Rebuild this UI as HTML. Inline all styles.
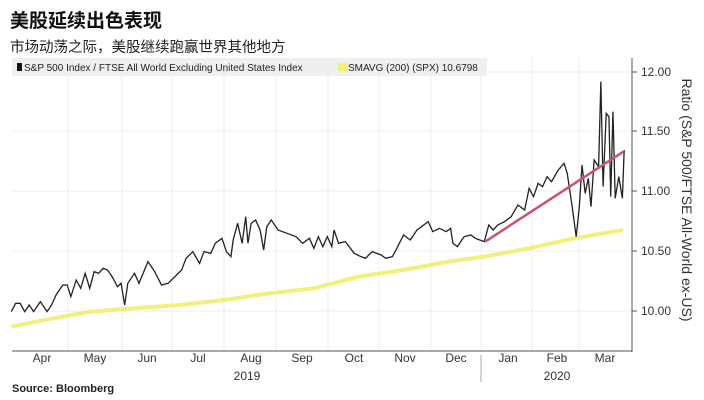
<!DOCTYPE html>
<html><head><meta charset="utf-8"><style>
body{margin:0;width:704px;height:400px;background:#fff;overflow:hidden;font-family:"Liberation Sans","Noto Sans CJK SC",sans-serif}
</style></head><body>
<svg width="704" height="400" xmlns="http://www.w3.org/2000/svg" style="position:absolute;left:0;top:0">
<text x="10" y="27" font-size="19" font-weight="bold" fill="#111" font-family="Liberation Sans,Noto Sans CJK SC,sans-serif">美股延续出色表现</text>
<text x="10" y="52" font-size="14.5" fill="#222" font-family="Liberation Sans,Noto Sans CJK SC,sans-serif">市场动荡之际，美股继续跑赢世界其他地方</text>
<g stroke="#ededed" stroke-width="1">
<line x1="12" y1="72" x2="632" y2="72"/><line x1="12" y1="131" x2="632" y2="131"/><line x1="12" y1="191" x2="632" y2="191"/><line x1="12" y1="251" x2="632" y2="251"/><line x1="12" y1="311" x2="632" y2="311"/>
<line x1="68" y1="58" x2="68" y2="351"/><line x1="122" y1="58" x2="122" y2="351"/><line x1="172" y1="58" x2="172" y2="351"/><line x1="224" y1="58" x2="224" y2="351"/><line x1="276" y1="58" x2="276" y2="351"/><line x1="328" y1="58" x2="328" y2="351"/><line x1="379" y1="58" x2="379" y2="351"/><line x1="431" y1="58" x2="431" y2="351"/><line x1="481" y1="58" x2="481" y2="351"/><line x1="532" y1="58" x2="532" y2="351"/><line x1="579" y1="58" x2="579" y2="351"/>
</g>
<rect x="12" y="58" width="475" height="18" fill="#efefef"/>
<rect x="17" y="63" width="5" height="8" fill="#111"/>
<text x="24" y="71" font-size="10" fill="#222">S&amp;P 500 Index / FTSE All World Excluding United States Index</text>
<rect x="338" y="63" width="9" height="8" fill="#f3f07a"/>
<text x="348" y="71" font-size="10" fill="#222">SMAVG (200) (SPX) 10.6798</text>
<line x1="632" y1="58" x2="632" y2="352" stroke="#555"/>
<line x1="12" y1="351" x2="632" y2="351" stroke="#555"/>
<g stroke="#555"><line x1="632" y1="72" x2="637" y2="72"/><line x1="632" y1="131" x2="637" y2="131"/><line x1="632" y1="191" x2="637" y2="191"/><line x1="632" y1="251" x2="637" y2="251"/><line x1="632" y1="311" x2="637" y2="311"/>
<line x1="481" y1="355" x2="481" y2="382" stroke="#aaa"/></g>
<g font-size="12" fill="#333">
<text x="641" y="76">12.00</text><text x="641" y="135">11.50</text><text x="641" y="195">11.00</text><text x="641" y="255">10.50</text><text x="641" y="315">10.00</text>
</g>
<g font-size="12" fill="#333" text-anchor="middle">
<text x="42" y="362">Apr</text><text x="95" y="362">May</text><text x="147" y="362">Jun</text><text x="198" y="362">Jul</text><text x="251" y="362">Aug</text><text x="302" y="362">Sep</text><text x="354" y="362">Oct</text><text x="405" y="362">Nov</text><text x="456" y="362">Dec</text><text x="508" y="362">Jan</text><text x="557" y="362">Feb</text><text x="605" y="362">Mar</text>
<text x="247" y="380">2019</text><text x="557" y="380">2020</text>
</g>
<text x="12" y="392" font-size="11" font-weight="bold" fill="#222">Source: Bloomberg</text>
<text transform="translate(682,200) rotate(90)" text-anchor="middle" font-size="14" fill="#333">Ratio (S&amp;P 500/FTSE All-World ex-US)</text>
<g transform="translate(0,50) scale(0.4484,0.3333)" fill="none">
<polyline vector-effect="non-scaling-stroke" stroke="#f3f07a" stroke-width="4" points="25,830 100,810 200,785 300,775 400,765 500,750 600,730 700,715 800,680 900,660 1000,635 1080,620 1180,595 1280,565 1390,540"/>
<polyline vector-effect="non-scaling-stroke" stroke="#222" stroke-width="1.3" points="25,785 35,760 45,760 55,785 65,765 75,785 90,755 105,785 115,765 125,735 140,705 150,705 158,740 170,690 180,715 190,670 200,715 210,665 220,670 230,655 240,660 250,680 262,710 270,700 278,765 285,700 300,670 310,700 330,635 345,665 360,705 375,700 390,680 405,660 415,625 430,605 445,640 455,605 470,610 480,580 495,565 505,605 515,620 520,570 530,520 540,580 548,500 553,580 560,520 570,510 580,540 588,600 595,530 605,510 620,540 640,550 660,560 675,580 690,565 700,595 710,560 720,590 730,560 740,590 745,540 755,580 770,575 790,610 805,620 815,625 830,605 850,615 860,625 875,620 885,595 900,555 915,570 930,540 955,515 965,545 980,535 995,545 1005,535 1010,580 1020,590 1035,560 1050,555 1060,565 1070,570 1080,575 1090,525 1100,540 1110,525 1125,515 1140,500 1155,465 1170,480 1180,415 1190,440 1200,400 1210,410 1220,380 1230,395 1245,360 1258,340 1265,370 1275,460 1285,560 1292,470 1298,345 1305,430 1312,385 1318,470 1325,330 1335,350 1340,95 1345,410 1352,190 1358,200 1362,440 1367,185 1372,445 1380,380 1388,445 1392,300"/>
<line vector-effect="non-scaling-stroke" x1="1082" y1="575" x2="1390" y2="305" stroke="#c4566a" stroke-width="2.5"/>
</g>
</svg>
</body></html>
